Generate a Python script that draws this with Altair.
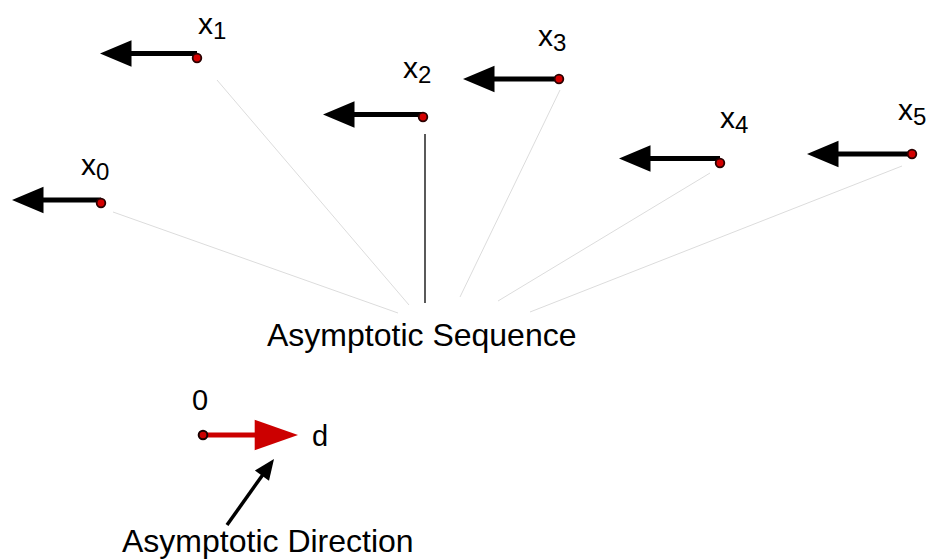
import altair as alt
import pandas as pd

# ---- sequence points x_0 ... x_5 (positions, px) ----
seq_sub = ["0", "1", "2", "3", "4", "5"]
seq_x = [101, 197, 423, 559, 720, 912]
seq_y = [203, 58, 117, 79, 163, 154]
# left-pointing arrows attached to each point
arrow_tip_x = [12, 100, 323, 463, 619, 807]
arrow_y = [200, 53.5, 114.5, 79, 158.5, 154]
# point labels: left edge / baseline of the "x"
label_x = [81, 198, 403, 538, 720, 898]
label_y = [175, 34, 78, 46, 128, 120]

# faint rays from the points to the caption
ray_x1 = [113, 217, 560, 710, 902]
ray_y1 = [212, 80, 90, 173, 166]
ray_x2 = [398, 409, 460, 498, 530]
ray_y2 = [313, 305, 297, 301, 312]
# solid connector below x_2
conn_x = [425, 425]
conn_y = [134, 303]

# asymptotic direction vector 0 -> d
dir_x = [203, 298]
dir_y = [435, 435]
dir_text = ["0", "d"]
dir_text_x = [192, 312]
dir_text_y = [410, 446]

# pointer arrow to the direction vector (tail, tip)
ptr_x = [227, 274]
ptr_y = [525, 459]

# captions
cap_text = ["Asymptotic Sequence", "Asymptotic Direction"]
cap_x = [267, 122]
cap_y = [346, 552]

FONT = "Liberation Sans"
xs = alt.Scale(domain=[8, 927], nice=False, zero=False)
ys = alt.Scale(domain=[559, 8], nice=False, zero=False)


def X(f):
    return alt.X(f, type="quantitative", scale=xs, axis=None)


def Y(f):
    return alt.Y(f, type="quantitative", scale=ys, axis=None)


def X2(f):
    return alt.X2(f)


def Y2(f):
    return alt.Y2(f)


rays = pd.DataFrame({"x": ray_x1, "y": ray_y1, "x2": ray_x2, "y2": ray_y2})
conn = pd.DataFrame({"x": [conn_x[0]], "y": [conn_y[0]], "x2": [conn_x[1]], "y2": [conn_y[1]]})
pts = pd.DataFrame({"x": seq_x, "y": seq_y, "tip": arrow_tip_x, "ay": arrow_y})
pts["shaft0"] = pts["tip"] + 12
labels = pd.DataFrame({"x": label_x, "y": label_y, "sub": seq_sub, "main": ["x"] * 6})

dir_df = pd.DataFrame({"x": [dir_x[0]], "y": [dir_y[0]], "x2": [dir_x[1] - 30], "y2": [dir_y[1]]})
dir_tip = pd.DataFrame({"x": [dir_x[1]], "y": [dir_y[1]]})
dir_org = pd.DataFrame({"x": [dir_x[0]], "y": [dir_y[0]]})
dir_lab = pd.DataFrame({"x": dir_text_x, "y": dir_text_y, "t": dir_text})

ptr_shaft = pd.DataFrame({
    "x": [ptr_x[0]], "y": [ptr_y[0]],
    "x2": [ptr_x[0] + 0.8 * (ptr_x[1] - ptr_x[0])],
    "y2": [ptr_y[0] + 0.8 * (ptr_y[1] - ptr_y[0])],
})
ptr_tip = pd.DataFrame({"x": [ptr_x[1]], "y": [ptr_y[1]]})
caps = pd.DataFrame({"x": cap_x, "y": cap_y, "t": cap_text})

LEFT_HEAD = "M0,0 L2,-0.84 L2,0.84 Z"
RIGHT_HEAD_RED = "M0,0 L-2,-0.71 L-2,0.71 Z"
RIGHT_HEAD_SMALL = "M0,0 L-2,-0.85 L-2,0.85 Z"

layers = [
    alt.Chart(rays).mark_rule(color="#dcdcdc", strokeWidth=1).encode(
        x=X("x"), y=Y("y"), x2=X2("x2"), y2=Y2("y2")),
    alt.Chart(conn).mark_rule(color="black", strokeWidth=1.3).encode(
        x=X("x"), y=Y("y"), x2=X2("x2"), y2=Y2("y2")),
    alt.Chart(pts).mark_rule(color="black", strokeWidth=5).encode(
        x=X("shaft0"), x2=X2("x"), y=Y("ay")),
    alt.Chart(pts).mark_point(shape=LEFT_HEAD, filled=True, fill="black", size=992,
                              strokeWidth=0, opacity=1).encode(
        x=X("tip"), y=Y("ay")),
    alt.Chart(pts).mark_circle(size=75, color="#d40000", stroke="#2a0000",
                               strokeWidth=1.8, opacity=1).encode(
        x=X("x"), y=Y("y")),
    alt.Chart(labels).mark_text(align="left", baseline="alphabetic", font=FONT,
                                fontSize=30, color="black").encode(
        x=X("x"), y=Y("y"), text="main:N"),
    alt.Chart(labels).mark_text(align="left", baseline="alphabetic", font=FONT,
                                fontSize=24, color="black", dx=15, dy=5).encode(
        x=X("x"), y=Y("y"), text="sub:N"),
    alt.Chart(dir_df).mark_rule(color="#cc0000", strokeWidth=5).encode(
        x=X("x"), y=Y("y"), x2=X2("x2"), y2=Y2("y2")),
    alt.Chart(dir_tip).mark_point(shape=RIGHT_HEAD_RED, filled=True, fill="#cc0000",
                                  size=1875, strokeWidth=0, opacity=1).encode(
        x=X("x"), y=Y("y")),
    alt.Chart(dir_org).mark_circle(size=75, color="#cc0000", stroke="#1a0000",
                                   strokeWidth=2, opacity=1).encode(
        x=X("x"), y=Y("y")),
    alt.Chart(dir_lab).mark_text(align="left", baseline="alphabetic", font=FONT,
                                 fontSize=29, color="black").encode(
        x=X("x"), y=Y("y"), text="t:N"),
    alt.Chart(ptr_shaft).mark_rule(color="black", strokeWidth=3.5).encode(
        x=X("x"), y=Y("y"), x2=X2("x2"), y2=Y2("y2")),
    alt.Chart(ptr_tip).mark_point(shape=RIGHT_HEAD_SMALL, filled=True, fill="black",
                                  size=420, angle=306, strokeWidth=0, opacity=1).encode(
        x=X("x"), y=Y("y")),
    alt.Chart(caps).mark_text(align="left", baseline="alphabetic", font=FONT,
                              fontSize=32, color="black").encode(
        x=X("x"), y=Y("y"), text="t:N"),
]

chart = alt.layer(*layers).properties(
    width=919, height=551, padding=0, autosize=alt.AutoSizeParams(type="none"),
    background="white",
).configure_view(stroke=None)

chart.save("out.html", embed_options={"renderer": "svg", "actions": False})
